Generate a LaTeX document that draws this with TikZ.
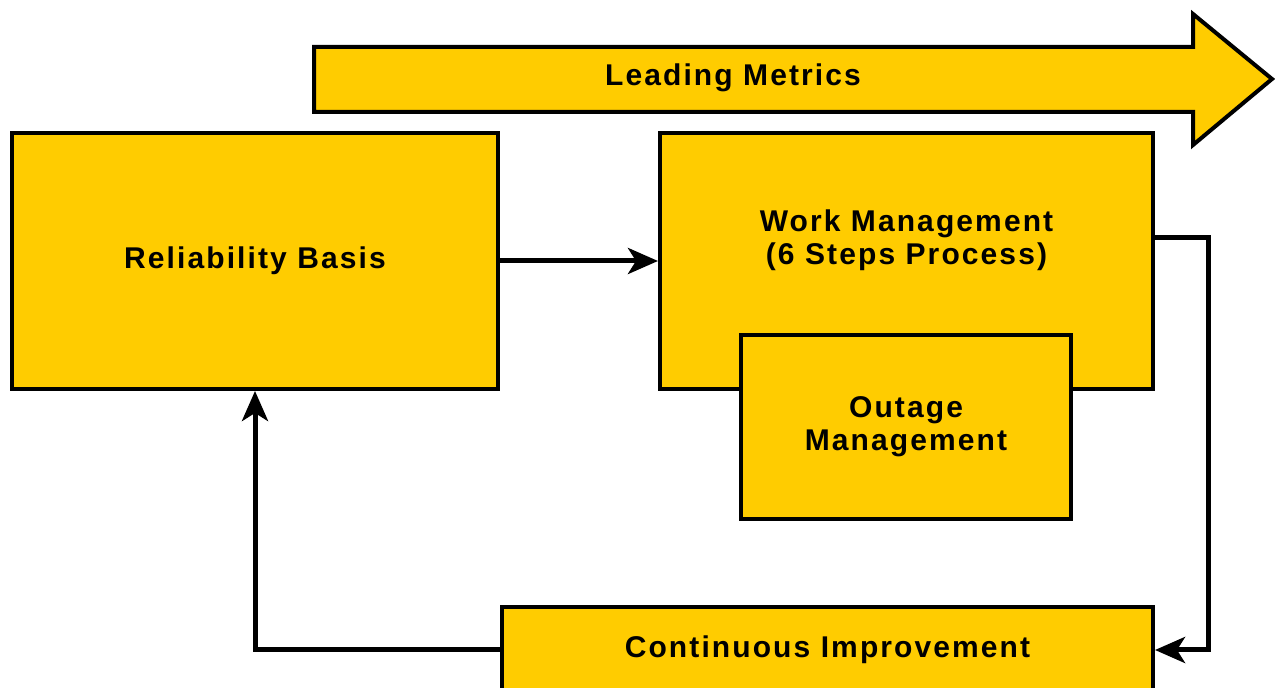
\documentclass[tikz,border=0pt]{standalone}
\usepackage{fontspec}
\setmainfont{Liberation Sans}
\usetikzlibrary{arrows.meta}
\definecolor{boxyellow}{RGB}{255,204,0}
\newcommand{\lbl}{\fontsize{15}{16.5}\selectfont\bfseries\addfontfeatures{LetterSpace=7}}
\tikzset{
  box/.style={draw,fill=boxyellow,line width=2pt,align=center,inner sep=0pt},
  link/.style={line width=2.5pt,-{Stealth[length=15pt,width=13pt,inset=4pt]}}
}
\begin{document}
\begin{tikzpicture}[x=0.5pt,y=-0.5pt,font=\lbl]
\clip (0,0) rectangle (1275,688);
% big arrow on top
\draw[box,line join=miter] (314,47)--(1193,47)--(1193,14)--(1272,79)--(1193,145)--(1193,112)--(314,112)--cycle;
\node (metrics) at (733,78) {Leading Metrics};
% boxes
\node[box,minimum width=243pt,minimum height=128pt] (basis) at (255,261) {Reliability Basis};
\node[box,minimum width=246.5pt,minimum height=128pt] (work) at (906.5,261) {};
\node[align=center] (worktext) at (906.5,240) {Work Management\\(6 Steps Process)};
\node[box,minimum width=165pt,minimum height=92pt] (outage) at (906,427) {Outage\\Management};
\node[box,minimum width=325.5pt,minimum height=43pt] (improve) at (827.5,650) {Continuous Improvement};
\coordinate (turn) at (1208,650);
% connectors
\draw[link] (basis.east) -- (work.west);
\draw[link] (work.east |- 0,238) -| (turn) -- (improve.east);
\draw[link] (improve.west) -| (basis.south);
\end{tikzpicture}
\end{document}
